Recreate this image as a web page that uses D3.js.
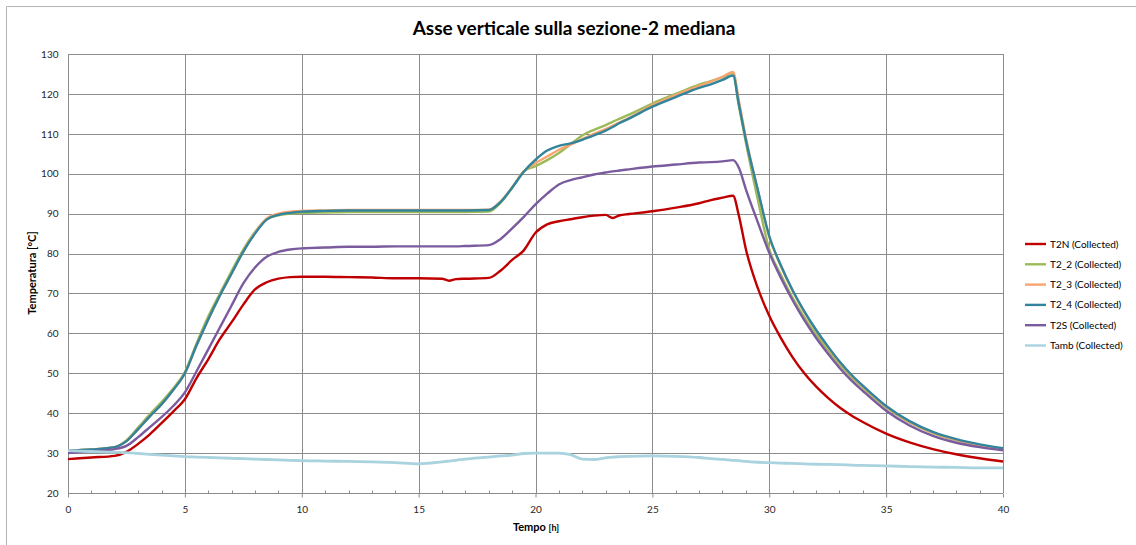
<!DOCTYPE html>
<html>
<head>
<meta charset="utf-8">
<script src="https://cdn.jsdelivr.net/npm/d3@7"></script>
<style>
  html, body { margin: 0; padding: 0; background: #fff; }
  svg { display: block; font-family: Lato, "Open Sans", sans-serif; }
</style>
</head>
<body>
<svg id="chart" width="1136" height="545"></svg>
<script>
// ---- data ----
const hours = [0, 1, 2, 2.5, 3, 3.5, 4, 4.5, 5, 5.5, 6, 6.5, 7, 7.5, 8, 8.5, 9, 9.5, 10, 11, 12, 13, 14, 15, 16, 16.3, 16.6, 17, 18, 18.5, 19, 19.5, 20, 20.5, 21, 21.5, 22, 22.5, 23, 23.3, 23.6, 24, 25, 26, 27, 27.5, 28, 28.45, 28.7, 29, 29.5, 30, 30.5, 31, 31.5, 32, 32.5, 33, 33.5, 34, 35, 36, 37, 38, 39, 40];

const T2N = [28.5, 28.9, 29.3, 30.3, 32.3, 34.7, 37.5, 40.4, 43.5, 48.8, 53.5, 58.6, 62.8, 67.2, 71.0, 72.8, 73.7, 74.1, 74.2, 74.2, 74.1, 74.0, 73.8, 73.8, 73.7, 73.2, 73.6, 73.7, 73.9, 75.7, 78.4, 80.8, 85.2, 87.3, 88.1, 88.6, 89.1, 89.5, 89.7, 88.9, 89.6, 89.9, 90.6, 91.5, 92.6, 93.4, 94.0, 94.5, 89.5, 81.1, 71.5, 64.4, 58.8, 54.0, 50.0, 46.7, 43.9, 41.5, 39.5, 37.8, 34.9, 32.7, 31.0, 29.7, 28.7, 27.9];

const T2_2 = [30.6, 30.9, 31.5, 33.2, 36.4, 39.7, 42.8, 46.2, 50.3, 57.5, 64.2, 70.0, 75.6, 81.0, 85.4, 88.6, 89.6, 90.0, 90.2, 90.3, 90.4, 90.4, 90.4, 90.4, 90.4, 90.4, 90.4, 90.4, 90.5, 92.7, 96.5, 100.6, 101.9, 103.4, 105.2, 107.4, 109.6, 111.0, 112.2, 113.0, 113.8, 114.8, 117.6, 120.0, 122.3, 123.2, 124.2, 125.2, 117.0, 107.8, 93.8, 81.1, 74.6, 68.9, 64.0, 59.7, 55.9, 52.3, 49.1, 46.4, 41.4, 37.7, 35.0, 33.2, 31.9, 31.0];

const T2_3 = [30.6, 30.9, 31.5, 33.0, 36.0, 39.2, 42.2, 45.8, 50.0, 57.0, 63.5, 69.5, 75.0, 80.5, 85.2, 88.8, 90.0, 90.5, 90.7, 90.8, 90.9, 90.9, 90.9, 90.9, 90.9, 90.9, 90.9, 90.9, 91.0, 93.0, 96.6, 100.6, 102.7, 104.3, 106.0, 107.3, 108.7, 110.0, 111.2, 112.0, 112.9, 114.0, 117.2, 119.7, 122.0, 123.1, 124.3, 125.5, 118.3, 109.0, 96.0, 84.2, 76.8, 70.6, 65.3, 60.7, 56.6, 52.8, 49.5, 46.7, 41.6, 37.8, 35.1, 33.3, 32.0, 31.0];

const T2_4 = [30.6, 30.9, 31.5, 33.0, 36.0, 39.2, 42.2, 45.8, 50.0, 57.0, 63.5, 69.5, 75.0, 80.5, 85.0, 88.5, 89.7, 90.2, 90.5, 90.7, 90.8, 90.8, 90.8, 90.8, 90.8, 90.8, 90.8, 90.8, 90.9, 92.9, 96.5, 100.5, 103.5, 105.8, 107.0, 107.6, 108.5, 109.6, 110.8, 111.7, 112.7, 113.8, 116.8, 119.2, 121.5, 122.4, 123.5, 124.6, 117.4, 108.5, 96.2, 84.4, 77.0, 70.8, 65.5, 60.9, 56.8, 53.0, 49.7, 46.9, 41.8, 38.0, 35.3, 33.5, 32.2, 31.2];

const T2S = [30.0, 30.5, 31.0, 31.8, 34.0, 36.5, 39.0, 41.8, 45.2, 50.5, 56.0, 61.5, 67.0, 72.5, 76.5, 79.2, 80.4, 81.0, 81.3, 81.5, 81.7, 81.7, 81.8, 81.8, 81.8, 81.8, 81.8, 81.9, 82.1, 83.6, 86.3, 89.2, 92.3, 95.0, 97.3, 98.4, 99.1, 99.8, 100.3, 100.6, 100.8, 101.1, 101.8, 102.3, 102.8, 102.9, 103.1, 103.4, 101.5, 96.1, 88.0, 80.2, 73.9, 68.3, 63.3, 58.9, 55.0, 51.4, 48.3, 45.6, 40.6, 36.9, 34.3, 32.6, 31.5, 30.7];

const Tamb = [30.6, 30.4, 30.2, 30.1, 29.9, 29.7, 29.5, 29.3, 29.1, 29.0, 28.9, 28.8, 28.7, 28.6, 28.5, 28.4, 28.3, 28.2, 28.1, 28.0, 27.9, 27.8, 27.6, 27.3, 27.8, 28.0, 28.2, 28.5, 29.0, 29.3, 29.5, 29.9, 30.0, 30.0, 30.0, 29.6, 28.5, 28.4, 28.8, 29.0, 29.1, 29.2, 29.3, 29.2, 28.9, 28.6, 28.4, 28.2, 28.1, 27.9, 27.7, 27.6, 27.5, 27.4, 27.3, 27.2, 27.15, 27.1, 27.0, 26.9, 26.8, 26.6, 26.5, 26.4, 26.3, 26.3];

const seriesNames = ["T2N (Collected)", "T2_2 (Collected)", "T2_3 (Collected)", "T2_4 (Collected)", "T2S (Collected)", "Tamb (Collected)"];
const seriesValues = [T2N, T2_2, T2_3, T2_4, T2S, Tamb];
const seriesColors = ["#C00000", "#9BBB59", "#F9A46E", "#31849B", "#7A5C9E", "#A9D3DF"];

const xTicks = [0, 5, 10, 15, 20, 25, 30, 35, 40];
const yTicks = [20, 30, 40, 50, 60, 70, 80, 90, 100, 110, 120, 130];

const titleText = "Asse verticale sulla sezione-2 mediana";
const xTitle = "Tempo";
const xUnit = "[h]";
const yTitle = "Temperatura [°C]";

// ---- layout ----
const svg = d3.select("#chart");
const plot = { left: 68, right: 1003, top: 54, bottom: 493 };
const gridColor = "#8c8c8c";

// outer frame (top & left edges visible)
svg.append("path")
  .attr("d", "M6.5,545 L6.5,6.5 L1136,6.5")
  .attr("fill", "none").attr("stroke", "#b4b4b4").attr("stroke-width", 1);

const x = d3.scaleLinear().domain([0, 40]).range([plot.left, plot.right]);
const y = d3.scaleLinear().domain([20, 130]).range([plot.bottom, plot.top]);

// grid
const g = svg.append("g");
g.append("g").selectAll("line").data(yTicks.slice(1)).join("line")
  .attr("x1", plot.left).attr("x2", plot.right)
  .attr("y1", d => Math.round(y(d)) + 0.5).attr("y2", d => Math.round(y(d)) + 0.5)
  .attr("stroke", gridColor).attr("stroke-width", 1);
g.append("g").selectAll("line").data(xTicks.slice(1)).join("line")
  .attr("x1", d => Math.round(x(d)) + 0.5).attr("x2", d => Math.round(x(d)) + 0.5)
  .attr("y1", plot.top).attr("y2", plot.bottom)
  .attr("stroke", gridColor).attr("stroke-width", 1);

// x axis (major ticks outward, minor inward)
const xAxisG = svg.append("g").attr("transform", `translate(0,${Math.round(plot.bottom) + 0.5})`)
  .call(d3.axisBottom(x).tickValues(xTicks).tickSize(4).tickPadding(8).tickFormat(d3.format("d")));
xAxisG.select(".domain").attr("stroke", gridColor).attr("d", `M${plot.left},0H${plot.right}`);
xAxisG.selectAll(".tick line").attr("stroke", gridColor);
xAxisG.selectAll(".tick text").attr("font-size", 10).attr("fill", "#262626")
  .attr("font-family", "Lato, sans-serif");
const minor = d3.range(0, 41).filter(h => h % 5 !== 0);
xAxisG.append("g").selectAll("line").data(minor).join("line")
  .attr("x1", d => Math.round(x(d)) + 0.5).attr("x2", d => Math.round(x(d)) + 0.5)
  .attr("y1", 0).attr("y2", -3).attr("stroke", gridColor);

// y axis
const yAxisG = svg.append("g").attr("transform", `translate(${plot.left + 0.5},0)`)
  .call(d3.axisLeft(y).tickValues(yTicks).tickSize(0).tickPadding(10).tickFormat(d3.format("d")));
yAxisG.select(".domain").attr("stroke", gridColor).attr("d", `M0,${plot.top}V${plot.bottom}`);
yAxisG.selectAll(".tick text").attr("font-size", 10).attr("fill", "#262626")
  .attr("font-family", "Lato, sans-serif");

// lines
const line = d3.line().x(d => x(d[0])).y(d => y(d[1])).curve(d3.curveMonotoneX);
const linesG = svg.append("g");
seriesValues.forEach((vals, i) => {
  const pts = hours.map((h, k) => [h, vals[k]]);
  linesG.append("path")
    .datum(pts)
    .attr("d", line)
    .attr("fill", "none")
    .attr("stroke", seriesColors[i])
    .attr("stroke-width", i === 5 ? 2.8 : 2.4)
    .attr("stroke-linejoin", "round");
});

// title
svg.append("text").attr("x", 574).attr("y", 35).attr("text-anchor", "middle")
  .attr("font-size", 19).attr("font-weight", "bold").attr("fill", "#000")
  .text(titleText);

// axis titles
const xt = svg.append("text").attr("x", 536).attr("y", 531).attr("text-anchor", "middle")
  .attr("font-weight", "bold").attr("fill", "#000");
xt.append("tspan").attr("font-size", 11).text(xTitle + " ");
xt.append("tspan").attr("font-size", 9).text(xUnit);

svg.append("text").attr("transform", "translate(36,273) rotate(-90)")
  .attr("text-anchor", "middle").attr("font-size", 11).attr("font-weight", "bold")
  .attr("fill", "#000").text(yTitle);

// legend
const legend = svg.append("g");
seriesNames.forEach((name, i) => {
  const ly = 244 + i * 20.3;
  legend.append("line").attr("x1", 1025).attr("x2", 1046).attr("y1", ly).attr("y2", ly)
    .attr("stroke", seriesColors[i]).attr("stroke-width", 2.4);
  legend.append("text").attr("x", 1050).attr("y", ly + 3.5).attr("font-size", 10)
    .attr("fill", "#000").text(name);
});
</script>
</body>
</html>
